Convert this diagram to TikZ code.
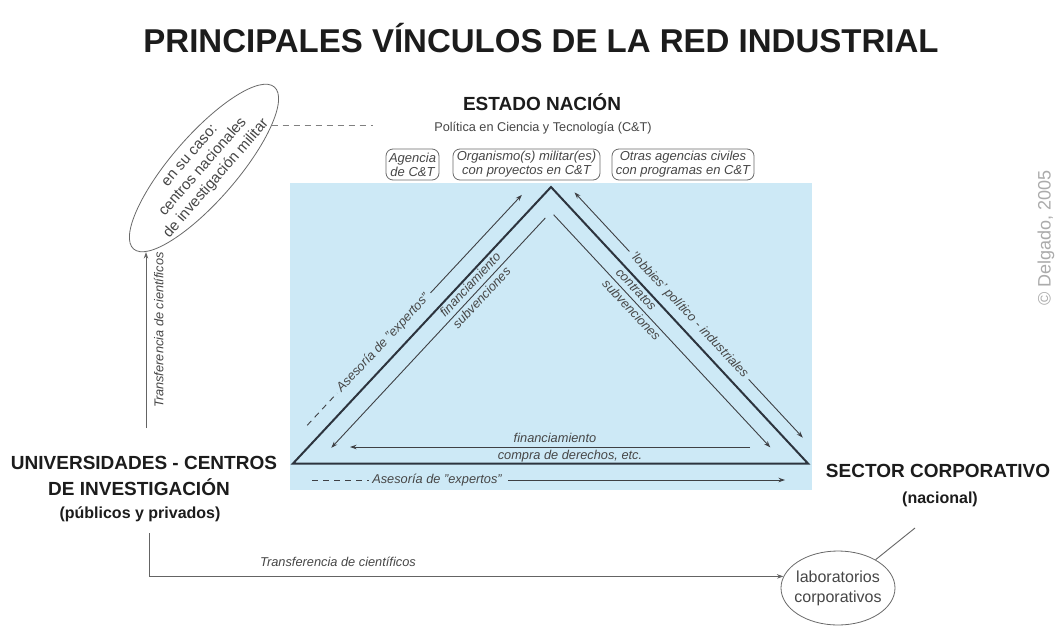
\documentclass[tikz,border=0pt]{standalone}
\usepackage{fontspec}
\setmainfont{Liberation Sans}
\usetikzlibrary{arrows.meta,shapes.geometric}
\definecolor{skyfill}{RGB}{205,233,246}
\definecolor{trline}{RGB}{45,52,62}
\definecolor{thinc}{RGB}{62,64,68}
\definecolor{lbl}{RGB}{70,70,70}
\definecolor{head}{RGB}{28,28,28}
\definecolor{bordergray}{RGB}{105,105,105}
\definecolor{conn}{RGB}{100,100,100}
\newcommand{\fsz}[2]{\fontsize{#1}{#2}\selectfont}
\begin{document}
\begin{tikzpicture}[x=1pt,y=-1pt,
  thinln/.style={draw=thinc, line width=0.9pt},
  connln/.style={draw=conn, line width=0.9pt},
  arr/.style={-{Stealth[length=6.5pt,width=4.5pt]}},
  dashsix/.style={dash pattern=on 6pt off 5pt},
  lab/.style={font=\fsz{12.8}{14}\itshape, text=lbl, inner sep=0pt, text height=9pt, text depth=2.5pt},
  hd/.style={font=\fsz{19}{22}\bfseries, text=head, inner sep=0pt, anchor=base},
  subhd/.style={font=\fsz{16}{19}\bfseries, text=head, inner sep=0pt, anchor=base},
  cbox/.style={draw=bordergray, line width=0.8pt, rounded corners=7pt, font=\fsz{13}{14}\itshape, text=lbl, align=center, inner xsep=2pt, inner ysep=1pt, minimum height=31pt}]
\useasboundingbox (0,0) rectangle (1056,629);
\fill[white] (0,0) rectangle (1056,629);
\fill[skyfill] (290,183) rectangle (812,490);

% title
\node[font=\fsz{33}{36}\bfseries, text=head, anchor=base, inner sep=0pt] (title) at (541,52) {PRINCIPALES VÍNCULOS DE LA RED INDUSTRIAL};

% Estado Nacion
\node[hd] (estado) at (542,110) {ESTADO NACIÓN};
\node[font=\fsz{12.7}{14}, text=lbl, inner sep=0pt, anchor=base] (politica) at (543,131) {Política en Ciencia y Tecnología (C\&T)};
\node[cbox, minimum width=53pt] (agencia) at (412.5,164.5) {Agencia\\de C\&T};
\node[cbox, minimum width=147pt] (organismo) at (526.5,164.5) {Organismo(s) militar(es)\\con proyectos en C\&T};
\node[cbox, minimum width=142pt] (otras) at (683,164.5) {Otras agencias civiles\\con programas en C\&T};

% military ellipse
\node[draw=bordergray, line width=0.8pt, ellipse, rotate=49, minimum width=208pt, minimum height=64pt, inner sep=0pt, align=center, font=\fsz{15}{17.5}, text=lbl] (mil) at (204,168) {en su caso:\\centros nacionales\\de investigación militar};
\coordinate (dend) at (373,127);
\draw[draw=black!50, line width=0.8pt, dashsix] (mil.-17) -- (mil.-17 -| dend);

% triangle
\coordinate (L) at (293,463.5);
\coordinate (A) at (551,187);
\coordinate (R) at (808,463.5);
\draw[trline, line width=2pt, line join=miter] (L) -- (A) -- (R) -- cycle;

% left side
\coordinate (la1) at (307.2,425.3);
\coordinate (la4) at (521.9,194.8);
\node[lab, rotate=47] (lasesor) at (383.5,343.3) {Asesoría de "expertos"};
\draw[thinln, dashsix, shorten >=3pt] (la1) -- (lasesor.west);
\draw[thinln, arr, shorten <=4pt] (lasesor.east) -- (la4);
\coordinate (li1) at (545.3,218.0);
\coordinate (li2) at (331.3,447.8);
\draw[thinln, arr] (li1) -- (li2);
\node[lab, rotate=47] (lfin) at (471.0,285.4) {financiamiento};
\node[lab, rotate=47] (lsub) at (482.4,298.7) {subvenciones};

% right side
\coordinate (rb1) at (574.5,192.4);
\coordinate (rb2) at (802.8,437.6);
\node[lab, rotate=-47] (lobby) at (689.0,315.4) {'lobbies' político - industriales};
\draw[thinln, arr, shorten <=4pt] (lobby.west) -- (rb1);
\draw[thinln, arr, shorten <=4pt] (lobby.east) -- (rb2);
\coordinate (ri1) at (553.6,214.7);
\coordinate (ri2) at (770.3,447.4);
\draw[thinln, arr] (ri1) -- (ri2);
\node[lab, rotate=-47] (rcon) at (635.4,290.1) {contratos};
\node[lab, rotate=-47] (rsub) at (630.8,310.8) {subvenciones};

% bottom side
\coordinate (bi1) at (750,447);
\coordinate (bi2) at (350,447);
\draw[thinln, arr] (bi1) -- (bi2);
\node[lab] (bfin) at (555,439) {financiamiento};
\node[lab] (bcomp) at (570,456) {compra de derechos, etc.};
\coordinate (bo1) at (312,480);
\coordinate (bo4) at (785,480);
\node[lab] (basesor) at (437,480) {Asesoría de "expertos"};
\draw[thinln, dashsix, shorten >=3pt] (bo1) -- (basesor.west);
\draw[thinln, arr, shorten <=6pt] (basesor.east) -- (bo4);

% universities
\node[hd] (univA) at (144,469) {UNIVERSIDADES - CENTROS};
\node[hd] (univB) at (139,495) {DE INVESTIGACIÓN};
\node[subhd] (univC) at (140,518) {(públicos y privados)};

% corporate sector
\node[hd] (sectorA) at (938,477) {SECTOR CORPORATIVO};
\node[subhd] (sectorB) at (940,503) {(nacional)};
\node[draw=bordergray, line width=0.8pt, ellipse, minimum width=114pt, minimum height=74pt, inner xsep=-4pt, inner ysep=0pt, align=center, font=\fsz{16}{20}, text=lbl] (lab) at (838,588) {laboratorios\\corporativos};
\coordinate (labend) at (915,528);
\draw[connln] (lab.37) -- (labend);

% transfers
\coordinate (ut) at (146,428);
\draw[connln, arr] (ut) -- (ut |- mil.185.5);
\node[lab, rotate=90] (tv) at (160,330) {Transferencia de científicos};
\coordinate (ub) at (149,533);
\draw[connln, arr] (ub) |- (lab.168);
\node[lab] (th) at (338,563) {Transferencia de científicos};

% copyright
\node[font=\fsz{18}{20}, text=black!33, rotate=90, inner sep=0pt] (copy) at (1046,238) {© Delgado, 2005};
\end{tikzpicture}
\end{document}
